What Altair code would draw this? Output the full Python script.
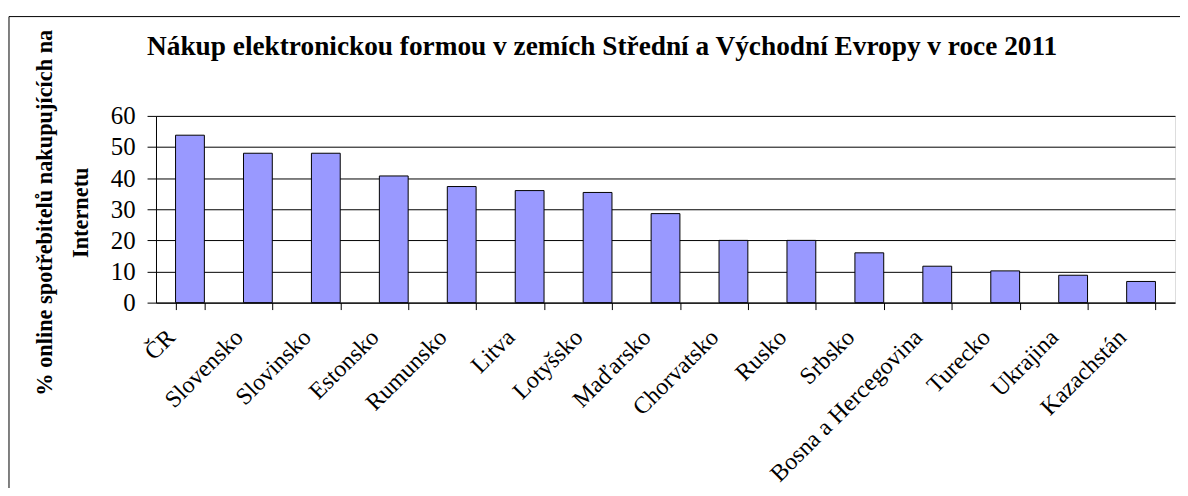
import altair as alt
import pandas as pd

countries = ["ČR", "Slovensko", "Slovinsko", "Estonsko", "Rumunsko", "Litva",
             "Lotyšsko", "Maďarsko", "Chorvatsko", "Rusko", "Srbsko",
             "Bosna a Hercegovina", "Turecko", "Ukrajina", "Kazachstán"]
values = [53.8, 48, 48, 40.7, 37.3, 36, 35.4, 28.6, 20, 20, 16, 11.7, 10.2, 8.8, 6.8]
y_ticks = [0, 10, 20, 30, 40, 50, 60]
title_text = "Nákup elektronickou formou v zemích Střední a Východní Evropy v roce 2011"
y_title = ["% online spotřebitelů nakupujících na", "Internetu"]

SERIF = "Liberation Serif, Times New Roman, serif"

df = pd.DataFrame({"zeme": countries, "podil": values})

bars = alt.Chart(df).mark_bar(fill="#9999FF", stroke="black", strokeWidth=1).encode(
    x=alt.X(
        "zeme:N", sort=countries,
        scale=alt.Scale(paddingInner=0.576, paddingOuter=0.288),
        axis=alt.Axis(
            title=None, labelAngle=-45, labelAlign="right", labelBaseline="middle",
            labelOffset=-19, labelPadding=24, tickBand="extent", tickSize=7,
            tickColor="black", domainColor="black", labelFont=SERIF, labelFontSize=24,
            labelColor="black", labelOverlap=False, labelLimit=500, grid=False,
        ),
    ),
    y=alt.Y(
        "podil:Q",
        scale=alt.Scale(domain=[0, 60], nice=False),
        axis=alt.Axis(
            values=y_ticks, title=y_title, grid=True, gridColor="black", gridOpacity=1,
            tickSize=9, tickColor="black", domainColor="black", labelPadding=12,
            labelFont=SERIF, labelFontSize=25, labelColor="black",
            titleFont=SERIF, titleFontSize=22.5, titleFontWeight="bold", titleColor="black",
            titleX=-105, titleY=97, titleAlign="center", titleBaseline="alphabetic",
            titleLineHeight=36,
        ),
    ),
)

title_df = pd.DataFrame({"t": [title_text]})
title_mark = alt.Chart(title_df).mark_text(
    align="left", baseline="alphabetic", font=SERIF, fontSize=27.5, fontWeight="bold",
    color="black",
).encode(text="t:N", x=alt.value(-9), y=alt.value(-61))

frame_df = pd.DataFrame({"k": [0]})
top_line = alt.Chart(frame_df).mark_rule(color="black", strokeWidth=1).encode(
    x=alt.value(-148), x2=alt.value(1040), y=alt.value(-100)
)
left_line = alt.Chart(frame_df).mark_rule(color="black", strokeWidth=1).encode(
    x=alt.value(-148), y=alt.value(-100), y2=alt.value(400)
)

chart = alt.layer(bars, title_mark, top_line, left_line).properties(
    width=1026, height=188,
    autosize=alt.AutoSizeParams(type="none"),
    padding={"left": 149, "top": 107, "right": 5, "bottom": 185},
).configure_view(fill="#C0C0C0", stroke="#808080", strokeWidth=1).configure(background="white")

chart.save("out.html", embed_options={"renderer": "svg", "actions": False})
